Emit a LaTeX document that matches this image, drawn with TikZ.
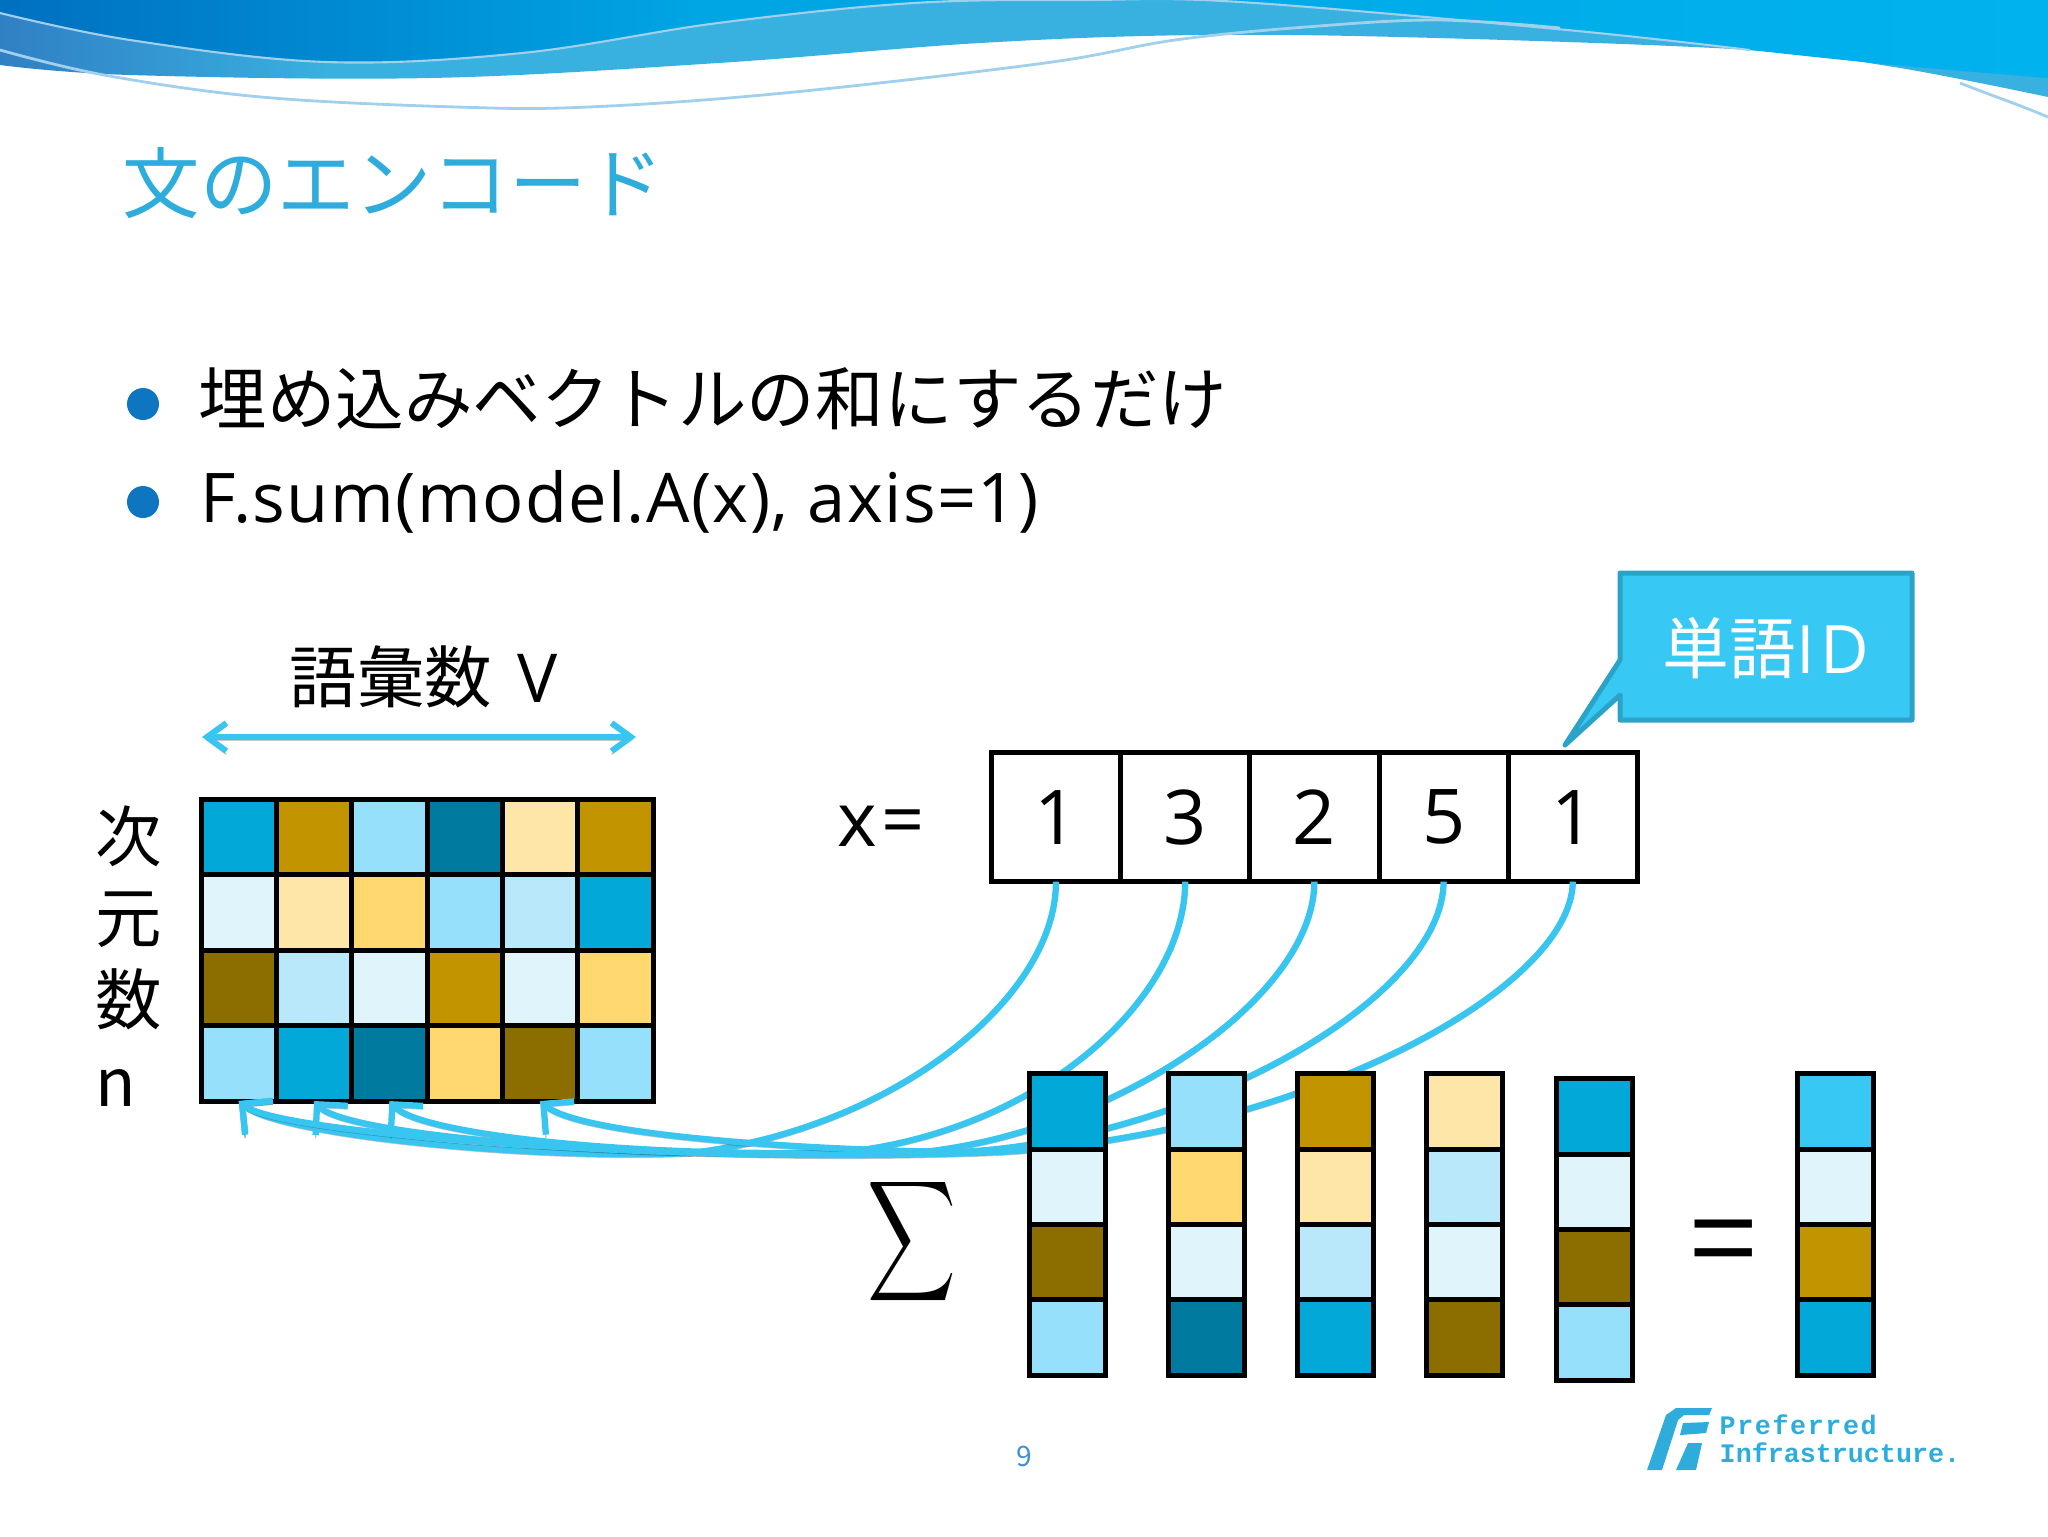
\documentclass[tikz,border=0pt]{standalone}
\usepackage{fontspec}
\setmainfont{Noto Sans CJK JP}
\setmonofont{Liberation Mono}
\newfontfamily\latinfont{Open Sans}
\usetikzlibrary{positioning, arrows.meta}

\definecolor{cellA}{HTML}{02A9D8}
\definecolor{cellB}{HTML}{C29500}
\definecolor{cellC}{HTML}{96E0FB}
\definecolor{cellD}{HTML}{007A9E}
\definecolor{cellE}{HTML}{FEE6A8}
\definecolor{cellF}{HTML}{E0F4FC}
\definecolor{cellG}{HTML}{FFD870}
\definecolor{cellH}{HTML}{B8E8F9}
\definecolor{cellI}{HTML}{8C6D00}
\definecolor{cellR}{HTML}{38C8F4}
\definecolor{linkblue}{HTML}{38C6F0}
\definecolor{titleblue}{HTML}{2EACDB}
\definecolor{edgeblue}{HTML}{2BA3C8}
\definecolor{bulletblue}{HTML}{0E75C0}
\definecolor{waveline}{HTML}{A0D0EC}
\definecolor{waveA}{HTML}{3080C4}
\definecolor{waveB}{HTML}{38B0E0}
\definecolor{waveC}{HTML}{0070C0}
\definecolor{waveD}{HTML}{00A5E3}
\definecolor{waveE}{HTML}{00B2EE}
\pgfdeclarehorizontalshading{waveband}{100bp}{color(0bp)=(waveA); color(25bp)=(waveA); color(33bp)=(waveB); color(100bp)=(waveB)}
\pgfdeclarehorizontalshading{wavetop}{100bp}{color(0bp)=(waveC); color(25bp)=(waveC); color(42bp)=(waveD); color(75bp)=(waveE); color(100bp)=(waveE)}

\begin{document}
\begin{tikzpicture}[
    x=0.1mm, y=-0.1mm,
    gridcell/.style={rectangle, draw=black, line width=1.42pt, minimum width=7.53mm, minimum height=7.55mm, inner sep=0pt, outer sep=0pt},
    idcell/.style={rectangle, draw=black, line width=1.42pt, minimum width=12.92mm, minimum height=12.92mm, inner sep=0pt, outer sep=0pt, font=\latinfont\fontsize{21.5}{24}\selectfont},
    bodytext/.style={anchor=base west, inner sep=0pt, font=\fontsize{19.5}{24}\selectfont},
    shadowed/.style={preaction={draw=black, opacity=0.22, transform canvas={yshift=-0.9pt}}},
    arr/.style={-{Straight Barb[length=6.2pt, width=12.4pt]}, line width=1.8pt, linkblue, shadowed},
    dblarr/.style={{Straight Barb[length=5.5pt, width=8pt]}-{Straight Barb[length=5.5pt, width=8pt]}, line width=1.7pt, linkblue, shadowed}
]
\useasboundingbox (0,0) rectangle (2048,1536);

% Header waves
\shade[shading=waveband]
    (0,0) -- plot[smooth, tension=0.6] coordinates {(0,65) (130,75) (430,78) (718,63) (980,43) (1200,35) (1437,38) (1750,50) (1894,67) (2048,97)} -- (2048,0) -- cycle;
\shade[shading=wavetop]
    (0,0) -- plot[smooth, tension=0.6] coordinates {(0,13) (130,40) (326,62) (522,53) (718,23) (914,3) (1084,0) (1240,2) (1567,30) (1750,50) (1894,65) (2048,78)} -- (2048,0) -- cycle;
\draw[waveline, line width=0.6pt] plot[smooth, tension=0.6] coordinates {(0,13) (130,40) (326,62) (522,53) (718,23) (914,3) (1084,0) (1240,2) (1567,30) (1750,50)};
\draw[waveline, line width=0.8pt] plot[smooth, tension=0.6] coordinates {(0,50) (104,75) (261,97) (457,107) (588,107) (784,93) (1045,63) (1175,40) (1306,27) (1437,20) (1560,28)};
\draw[waveline, line width=0.8pt] (1960,83) .. controls (1990,95) and (2020,105) .. (2048,117);

% Title and bullets
\node[anchor=base west, inner sep=0pt, text=titleblue, font=\fontsize{22}{26}\selectfont] (title) at (122,212) {文のエンコード};
\fill[bulletblue] (143,404) circle (16);
\fill[bulletblue] (143,502) circle (16);
\node[bodytext] (item1) at (198,424) {埋め込みベクトルの和にするだけ};
\node[bodytext, font=\latinfont\fontsize{19.5}{24}\selectfont] (item2) at (200,522) {\addfontfeature{LetterSpace=2}F.sum(model.A(x), axis=1)};

% Embedding matrix
\foreach \clr [count=\i] in {A,B,C,D,E,B, F,E,G,C,H,A, I,H,F,B,F,G, C,A,D,G,I,C} {
    \pgfmathtruncatemacro{\r}{(\i-1)/6+1}
    \pgfmathtruncatemacro{\c}{\i-6*(\r-1)}
    \node[gridcell, fill=cell\clr] (g\r\c) at ({238.7+75.33*(\c-1)},{836.75+75.5*(\r-1)}) {};
}

\node[anchor=base, inner sep=0pt, font=\fontsize{19.2}{24}\selectfont] (vocab) at (424,702) {語彙数\hspace{3pt} {\latinfont V}};
\coordinate (vleft) at (202,737);
\coordinate (vright) at (636,737);
\draw[dblarr] (vleft) -- (vright);
\node[anchor=north west, inner sep=0pt, align=left, font=\fontsize{18.9}{23.2}\selectfont] (dim) at (95,805) {次\\元\\数\\n};

% Word ids
\node[inner sep=0pt, font=\latinfont\fontsize{21.5}{24}\selectfont] (xlabel) at (881,826) {\addfontfeature{LetterSpace=6}x=};
\node[idcell] (x1) at (1056,817) {1};
\node[idcell, right=0pt of x1] (x2) {3};
\node[idcell, right=0pt of x2] (x3) {2};
\node[idcell, right=0pt of x3] (x4) {5};
\node[idcell, right=0pt of x4] (x5) {1};

% Callout
\draw[fill=cellR, draw=edgeblue, line width=1.42pt, line join=round]
    (1620,573) -- (1912,573) -- (1912,720) -- (1620,720) -- (1620,695) -- (1565,745) -- (1620,660) -- cycle;
\node[text=white, inner sep=0pt, font=\fontsize{19}{24}\selectfont] (wordid) at (1766,648) {単語{\latinfont\addfontfeature{LetterSpace=8}ID}};

% Connections to matrix
\coordinate (c1) at (690,1153);
\coordinate (c2) at (846,1152);
\coordinate (c3) at (913,1153);
\coordinate (c4) at (960,1152);
\coordinate (c5) at (1000,1152);
\draw[arr] (x1.south) .. controls (1056,1000) and (890,1130) .. (c1) .. controls (530,1160) and (280,1135) .. (g41.south);
\draw[arr] (x2.south) .. controls (1185,1000) and (1040,1130) .. (c2) .. controls (640,1158) and (420,1135) .. (g43.south);
\draw[arr] (x3.south) .. controls (1314,1000) and (1110,1135) .. (c3) .. controls (620,1160) and (345,1135) .. (g42.south);
\draw[arr] (x4.south) .. controls (1443,1000) and (1190,1140) .. (c4) .. controls (800,1150) and (580,1135) .. (g45.south);
\draw[arr] (x5.south) .. controls (1572,990) and (1300,1135) .. (c5) .. controls (700,1165) and (280,1135) .. (g41.south);

% Selected columns
\foreach \k/\xx/\yy/\ca/\cb/\cc/\cd in {1/1067.5/1111.5/A/F/I/C, 2/1206.5/1111.5/C/G/F/D, 3/1335.5/1111.5/B/E/H/A, 4/1464.5/1111.5/E/H/F/I, 5/1594.5/1116.5/A/F/I/C, 6/1835.5/1111.5/R/F/B/A} {
    \node[gridcell, fill=cell\ca] (v\k1) at (\xx,\yy) {};
    \node[gridcell, fill=cell\cb] (v\k2) at (\xx,\yy+75.3) {};
    \node[gridcell, fill=cell\cc] (v\k3) at (\xx,\yy+150.6) {};
    \node[gridcell, fill=cell\cd] (v\k4) at (\xx,\yy+225.9) {};
}

\node[xscale=1.75, yscale=2.4, inner sep=0pt] (sumsign) at (912,1242) {$\displaystyle\sum$};
\node[inner sep=0pt, font=\fontsize{34}{40}\selectfont] (equal) at (1724,1251) {=};

% Footer
\node[inner sep=0pt, text=bulletblue!80!white, font=\fontsize{8}{10}\selectfont] (page) at (1024,1456) {9};
\fill[titleblue] (1647,1470) -- (1666,1415) -- (1676,1408) -- (1712,1408) -- (1709,1415) -- (1684,1415) -- (1678,1420) -- (1662,1470) -- cycle;
\fill[titleblue] (1683,1423) -- (1709,1422) -- (1706,1433) -- (1680,1435) -- cycle;
\fill[titleblue] (1688,1443) -- (1702,1443) -- (1696,1470) -- (1676,1470) -- cycle;
\node[anchor=north west, inner sep=0pt, align=left, text=titleblue, font=\ttfamily\bfseries\fontsize{7.6}{7.9}\selectfont] (logo) at (1719,1414) {{\addfontfeature{LetterSpace=6}Preferred}\\Infrastructure.};

\end{tikzpicture}
\end{document}
